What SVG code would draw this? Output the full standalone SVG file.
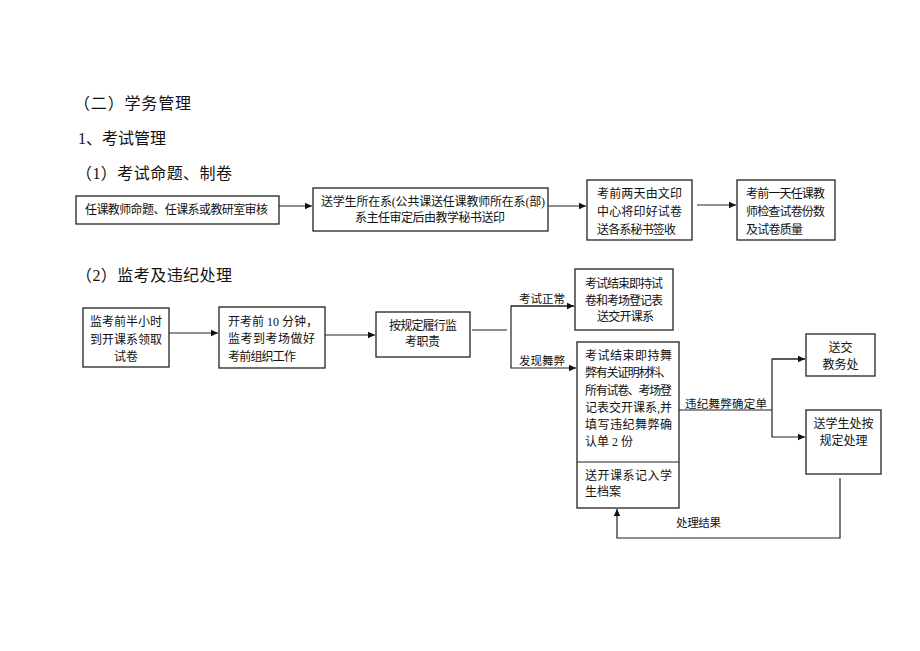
<svg xmlns="http://www.w3.org/2000/svg" width="920" height="651" viewBox="0 0 920 651">
<style>
.h{font-family:"Liberation Serif","Noto Sans CJK SC",serif;font-size:16px;fill:#111}
.t{font-family:"Liberation Serif","Noto Sans CJK SC",serif;font-size:12px;fill:#111}
.l{font-family:"Liberation Serif","Noto Sans CJK SC",serif;font-size:11.5px;fill:#111}
.c{text-anchor:middle}
.box{fill:#fff;stroke:#222;stroke-width:1.3}
.ln{fill:none;stroke:#222;stroke-width:1.2}
</style>
<defs>
<marker id="ah" markerUnits="userSpaceOnUse" markerWidth="8" markerHeight="8" refX="7" refY="4" orient="auto">
<path d="M0,0.8 L7,4 L0,7.2 Z" fill="#111"/>
</marker>
</defs>
<rect width="920" height="651" fill="#fff"/>

<g id="headings">
<text class="h" x="74" y="109" textLength="117" lengthAdjust="spacing">（二）学务管理</text>
<text class="h" x="78" y="144" textLength="88" lengthAdjust="spacing">1、考试管理</text>
<text class="h" x="76" y="179" textLength="156" lengthAdjust="spacing">（1）考试命题、制卷</text>
<text class="h" x="76" y="281" textLength="156" lengthAdjust="spacing">（2）监考及违纪处理</text>
</g>

<g id="connectors">
<line class="ln" x1="279" y1="206" x2="312" y2="206" marker-end="url(#ah)"/>
<line class="ln" x1="548" y1="206" x2="586" y2="206" marker-end="url(#ah)"/>
<line class="ln" x1="697" y1="205" x2="736" y2="205" marker-end="url(#ah)"/>
<line class="ln" x1="169" y1="333" x2="218" y2="333" marker-end="url(#ah)"/>
<line class="ln" x1="325" y1="335" x2="375" y2="335" marker-end="url(#ah)"/>
<line class="ln" x1="472" y1="330" x2="507" y2="330"/>
<polyline class="ln" points="574,306 511,306 511,368 576,368" marker-end="url(#ah)"/>
<line class="ln" x1="511" y1="306" x2="574" y2="306" marker-end="url(#ah)"/>
<text class="l c" x="542" y="303">考试正常</text>
<text class="l c" x="542" y="365">发现舞弊</text>
<line class="ln" x1="679" y1="410" x2="772" y2="410"/>
<polyline class="ln" points="805,359 772,359 772,437 805,437" marker-end="url(#ah)"/>
<line class="ln" x1="772" y1="359" x2="805" y2="359" marker-end="url(#ah)"/>
<text class="l" x="685" y="408" textLength="82" lengthAdjust="spacing">违纪舞弊确定单</text>
<polyline class="ln" points="840,478 840,538 617,538 617,509" marker-end="url(#ah)"/>
<text class="l" x="676" y="527" textLength="45" lengthAdjust="spacing">处理结果</text>
</g>

<g id="n1">
<rect class="box" x="76" y="196" width="203" height="28"/>
<text class="t" x="85" y="214" textLength="183" lengthAdjust="spacing">任课教师命题、任课系或教研室审核</text>
</g>
<g id="n2">
<rect class="box" x="313" y="188" width="235" height="43"/>
<text class="t" x="321" y="206" textLength="224" lengthAdjust="spacing">送学生所在系(公共课送任课教师所在系(部)</text>
<text class="t" x="355" y="222" textLength="150" lengthAdjust="spacing">系主任审定后由教学秘书送印</text>
</g>
<g id="n3">
<rect class="box" x="587" y="180" width="105" height="60"/>
<text class="t" x="597" y="198" textLength="85" lengthAdjust="spacing">考前两天由文印</text>
<text class="t" x="597" y="216" textLength="85" lengthAdjust="spacing">中心将印好试卷</text>
<text class="t" x="597" y="234" textLength="79" lengthAdjust="spacing">送各系秘书签收</text>
</g>
<g id="n4">
<rect class="box" x="737" y="180" width="98" height="60"/>
<text class="t" x="746" y="198" textLength="79" lengthAdjust="spacing">考前一天任课教</text>
<text class="t" x="746" y="216" textLength="79" lengthAdjust="spacing">师检查试卷份数</text>
<text class="t" x="746" y="234" textLength="57" lengthAdjust="spacing">及试卷质量</text>
</g>

<g id="m1">
<rect class="box" x="83" y="308" width="86" height="59"/>
<text class="t c" x="126" y="326">监考前半小时</text>
<text class="t c" x="126" y="343.5">到开课系领取</text>
<text class="t c" x="126" y="361">试卷</text>
</g>
<g id="m2">
<rect class="box" x="219" y="307" width="106" height="61"/>
<text class="t" x="228" y="325.5">开考前 10 分钟，</text>
<text class="t" x="228" y="343" textLength="87" lengthAdjust="spacing">监考到考场做好</text>
<text class="t" x="228" y="360.5" textLength="68" lengthAdjust="spacing">考前组织工作</text>
</g>
<g id="m3">
<rect class="box" x="376" y="312" width="94" height="45"/>
<text class="t" x="389" y="329.5" textLength="68" lengthAdjust="spacing">按规定履行监</text>
<text class="t" x="405" y="346" textLength="35" lengthAdjust="spacing">考职责</text>
</g>
<g id="m4">
<rect class="box" x="575" y="269" width="98" height="61"/>
<text class="t" x="585" y="288" textLength="78" lengthAdjust="spacing">考试结束即持试</text>
<text class="t" x="585" y="305" textLength="78" lengthAdjust="spacing">卷和考场登记表</text>
<text class="t" x="597" y="321" textLength="57" lengthAdjust="spacing">送交开课系</text>
</g>
<g id="m5">
<rect class="box" x="577" y="342" width="102" height="166"/>
<line class="ln" x1="577" y1="462" x2="679" y2="462"/>
<text class="t" x="585" y="360" textLength="87" lengthAdjust="spacing">考试结束即持舞</text>
<text class="t" x="585" y="377" textLength="87" lengthAdjust="spacing">弊有关证明材料、</text>
<text class="t" x="585" y="394.5" textLength="87" lengthAdjust="spacing">所有试卷、考场登</text>
<text class="t" x="585" y="411.5" textLength="87" lengthAdjust="spacing">记表交开课系,并</text>
<text class="t" x="585" y="428.5" textLength="87" lengthAdjust="spacing">填写违纪舞弊确</text>
<text class="t" x="585" y="446">认单 2 份</text>
<text class="t" x="585" y="479.5" textLength="87" lengthAdjust="spacing">送开课系记入学</text>
<text class="t" x="585" y="496" textLength="36" lengthAdjust="spacing">生档案</text>
</g>
<g id="m6">
<rect class="box" x="806" y="334" width="69" height="42"/>
<text class="t c" x="840.5" y="351.5">送交</text>
<text class="t c" x="840.5" y="368.5">教务处</text>
</g>
<g id="m7">
<rect class="box" x="806" y="410" width="75" height="64"/>
<text class="t c" x="843.5" y="427.5">送学生处按</text>
<text class="t c" x="843.5" y="444.5">规定处理</text>
</g>
</svg>
